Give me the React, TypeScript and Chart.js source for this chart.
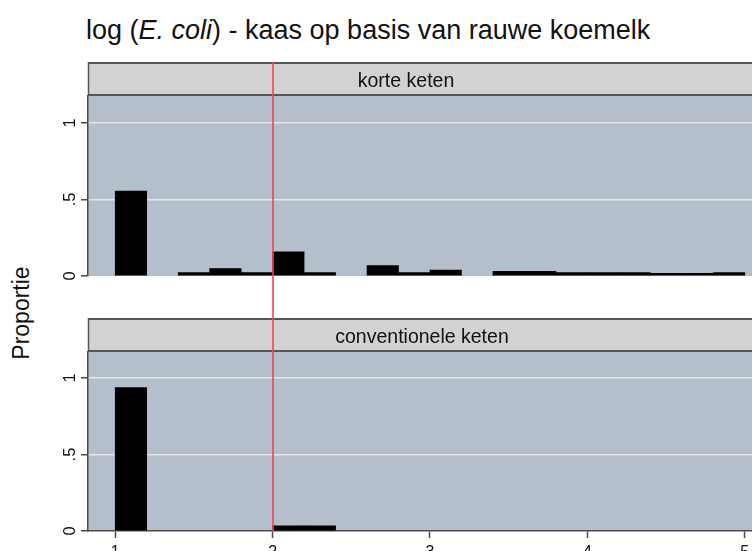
import React, { useEffect, useRef } from 'react';
import { Chart, registerables } from 'chart.js';

Chart.register(...registerables);

// ---- data ----
const binCenters = [1.1, 1.3, 1.5, 1.7, 1.9, 2.1, 2.3, 2.5, 2.7, 2.9, 3.1, 3.3, 3.5, 3.7, 3.9, 4.1, 4.3, 4.5, 4.7, 4.9];
const korteKeten = [0.555, null, 0.022, 0.048, 0.022, 0.158, 0.022, null, 0.068, 0.022, 0.039, null, 0.03, 0.03, 0.022, 0.022, 0.022, 0.018, 0.018, 0.022];
const conventioneleKeten = [0.937, null, null, null, null, 0.033, 0.033, null, null, null, null, null, null, null, null, null, null, null, null, null];
const panelLabels = ['korte keten', 'conventionele keten'];
const xTickValues = [1, 2, 3, 4, 5];
const yTickValues = [0, 0.5, 1];
const yTickLabels = ['0', '.5', '1'];
const referenceLineX = 2;
const yAxisTitle = 'Proportie';

const FONT = '"Liberation Sans", Arial, sans-serif';
const PLOT_BG = '#b4bfcb';
const STRIP_BG = '#d2d2d2';
const AXIS_COLOR = '#4a4a4a';

type PanelCfg = {
  label: string;
  values: (number | null)[];
  top: number;
  height: number;
  padBottom: number;
  yMax: number;
  showX: boolean;
  stripTextX: number;
};

const STRIP_H = 34;
const X_MIN = 0.827;
const X_MAX = 5.046;

function Panel({ cfg }: { cfg: PanelCfg }) {
  const ref = useRef<HTMLCanvasElement | null>(null);
  useEffect(() => {
    if (!ref.current) return;
    const panelPlugin = {
      id: 'panelDecor',
      beforeDraw(chart: any) {
        const { ctx, chartArea } = chart;
        ctx.save();
        ctx.fillStyle = PLOT_BG;
        ctx.fillRect(chartArea.left, chartArea.top, chartArea.right - chartArea.left, chartArea.bottom - chartArea.top);
        // strip
        const left = chartArea.left;
        ctx.fillStyle = STRIP_BG;
        ctx.fillRect(left, 0, chart.width - left, STRIP_H);
        ctx.strokeStyle = '#555';
        ctx.lineWidth = 2;
        ctx.beginPath();
        ctx.moveTo(left, 1);
        ctx.lineTo(chart.width, 1);
        ctx.moveTo(left, STRIP_H - 1);
        ctx.lineTo(chart.width, STRIP_H - 1);
        ctx.stroke();
        ctx.lineWidth = 1.5;
        ctx.beginPath();
        ctx.moveTo(left + 0.5, 0);
        ctx.lineTo(left + 0.5, STRIP_H);
        ctx.stroke();
        ctx.fillStyle = '#111';
        ctx.font = `19.5px ${FONT}`;
        ctx.textAlign = 'center';
        ctx.textBaseline = 'alphabetic';
        ctx.fillText(cfg.label, cfg.stripTextX, 24.5);
        ctx.restore();
      },
      afterDraw(chart: any) {
        const { ctx, chartArea } = chart;
        const ys = chart.scales.y;
        ctx.save();
        ctx.fillStyle = '#111';
        ctx.font = `16.5px ${FONT}`;
        ctx.textAlign = 'center';
        ctx.textBaseline = 'alphabetic';
        yTickValues.forEach((v, i) => {
          const py = ys.getPixelForValue(v);
          ctx.save();
          ctx.translate(75, py);
          ctx.rotate(-Math.PI / 2);
          ctx.fillText(yTickLabels[i], 0, 0);
          ctx.restore();
        });
        const xs = chart.scales.x;
        const px = Math.round(xs.getPixelForValue(referenceLineX));
        ctx.strokeStyle = 'rgb(240,70,80)';
        ctx.lineWidth = 1.6;
        ctx.beginPath();
        ctx.moveTo(px, 0);
        ctx.lineTo(px, cfg.showX ? chartArea.bottom : chart.height);
        ctx.stroke();
        ctx.restore();
      },
    };

    const chart = new Chart(ref.current, {
      type: 'bar',
      data: {
        datasets: [
          {
            label: cfg.label,
            data: binCenters.map((x, i) => ({ x, y: cfg.values[i] })) as any,
            backgroundColor: '#000',
            borderColor: '#000',
            borderWidth: 0,
            barPercentage: 1,
            categoryPercentage: 1,
          },
        ],
      },
      options: {
        animation: false,
        responsive: false,
        devicePixelRatio: 1,
        layout: { padding: { top: STRIP_H, bottom: cfg.padBottom, left: 0, right: 0 } },
        plugins: { legend: { display: false }, tooltip: { enabled: false }, title: { display: false } },
        scales: {
          x: {
            type: 'linear',
            display: cfg.showX,
            min: X_MIN,
            max: X_MAX,
            offset: false,
            grid: {
              offset: false,
              drawOnChartArea: false,
              drawTicks: true,
              tickLength: 7,
              tickColor: AXIS_COLOR,
              tickWidth: 1.5,
            },
            border: { display: true, color: AXIS_COLOR, width: 1.5 },
            ticks: {
              autoSkip: false,
              maxRotation: 0,
              minRotation: 0,
              padding: 5,
              color: '#111',
              font: { family: FONT, size: 16 },
            },
            afterBuildTicks: (s: any) => {
              s.ticks = xTickValues.map((v) => ({ value: v }));
            },
            afterFit: (s: any) => {
              s.height = cfg.showX ? 20 : 0;
              s.paddingLeft = 0;
              s.paddingRight = 0;
            },
          },
          y: {
            type: 'linear',
            min: 0,
            max: cfg.yMax,
            grid: {
              color: (c: any) => (c.tick && c.tick.value === 0 ? 'rgba(0,0,0,0)' : '#e3e6ea'),
              lineWidth: 1.5,
              drawTicks: true,
              tickLength: 7,
              tickColor: AXIS_COLOR,
              tickWidth: 1.5,
            },
            border: { display: true, color: AXIS_COLOR, width: 1.5 },
            ticks: { display: false },
            afterBuildTicks: (s: any) => {
              s.ticks = yTickValues.map((v) => ({ value: v }));
            },
            afterFit: (s: any) => {
              s.width = 88;
              s.paddingTop = 0;
              s.paddingBottom = 0;
            },
          },
        },
      } as any,
      plugins: [panelPlugin],
    });
    return () => chart.destroy();
  }, [cfg]);
  return (
    <canvas
      ref={ref}
      width={752}
      height={cfg.height}
      style={{ position: 'absolute', left: 0, top: cfg.top, width: 752, height: cfg.height, display: 'block' }}
    />
  );
}

const topPanel: PanelCfg = {
  label: panelLabels[0],
  values: korteKeten,
  top: 62,
  height: 256,
  padBottom: 42,
  yMax: 1.175,
  showX: false,
  stripTextX: 406,
};

const bottomPanel: PanelCfg = {
  label: panelLabels[1],
  values: conventioneleKeten,
  top: 318,
  height: 233,
  padBottom: 0,
  yMax: 1.17,
  showX: true,
  stripTextX: 422,
};

export default function App() {
  return (
    <div
      style={{
        position: 'absolute',
        left: 0,
        top: 0,
        width: 752,
        height: 551,
        overflow: 'hidden',
        background: '#fff',
        fontFamily: FONT,
      }}
    >
      <div
        style={{
          position: 'absolute',
          left: 86,
          top: 15,
          fontSize: 27,
          lineHeight: '30px',
          color: '#111',
          whiteSpace: 'nowrap',
        }}
      >
        log (<i>E. coli</i>) - kaas op basis van rauwe koemelk
      </div>
      <div
        style={{
          position: 'absolute',
          left: 20.5 - 100,
          top: 312.5 - 15,
          width: 200,
          height: 30,
          lineHeight: '30px',
          fontSize: 23,
          textAlign: 'center',
          color: '#111',
          transform: 'rotate(-90deg)',
          transformOrigin: '50% 50%',
          whiteSpace: 'nowrap',
        }}
      >
        {yAxisTitle}
      </div>
      <Panel cfg={topPanel} />
      <Panel cfg={bottomPanel} />
    </div>
  );
}
